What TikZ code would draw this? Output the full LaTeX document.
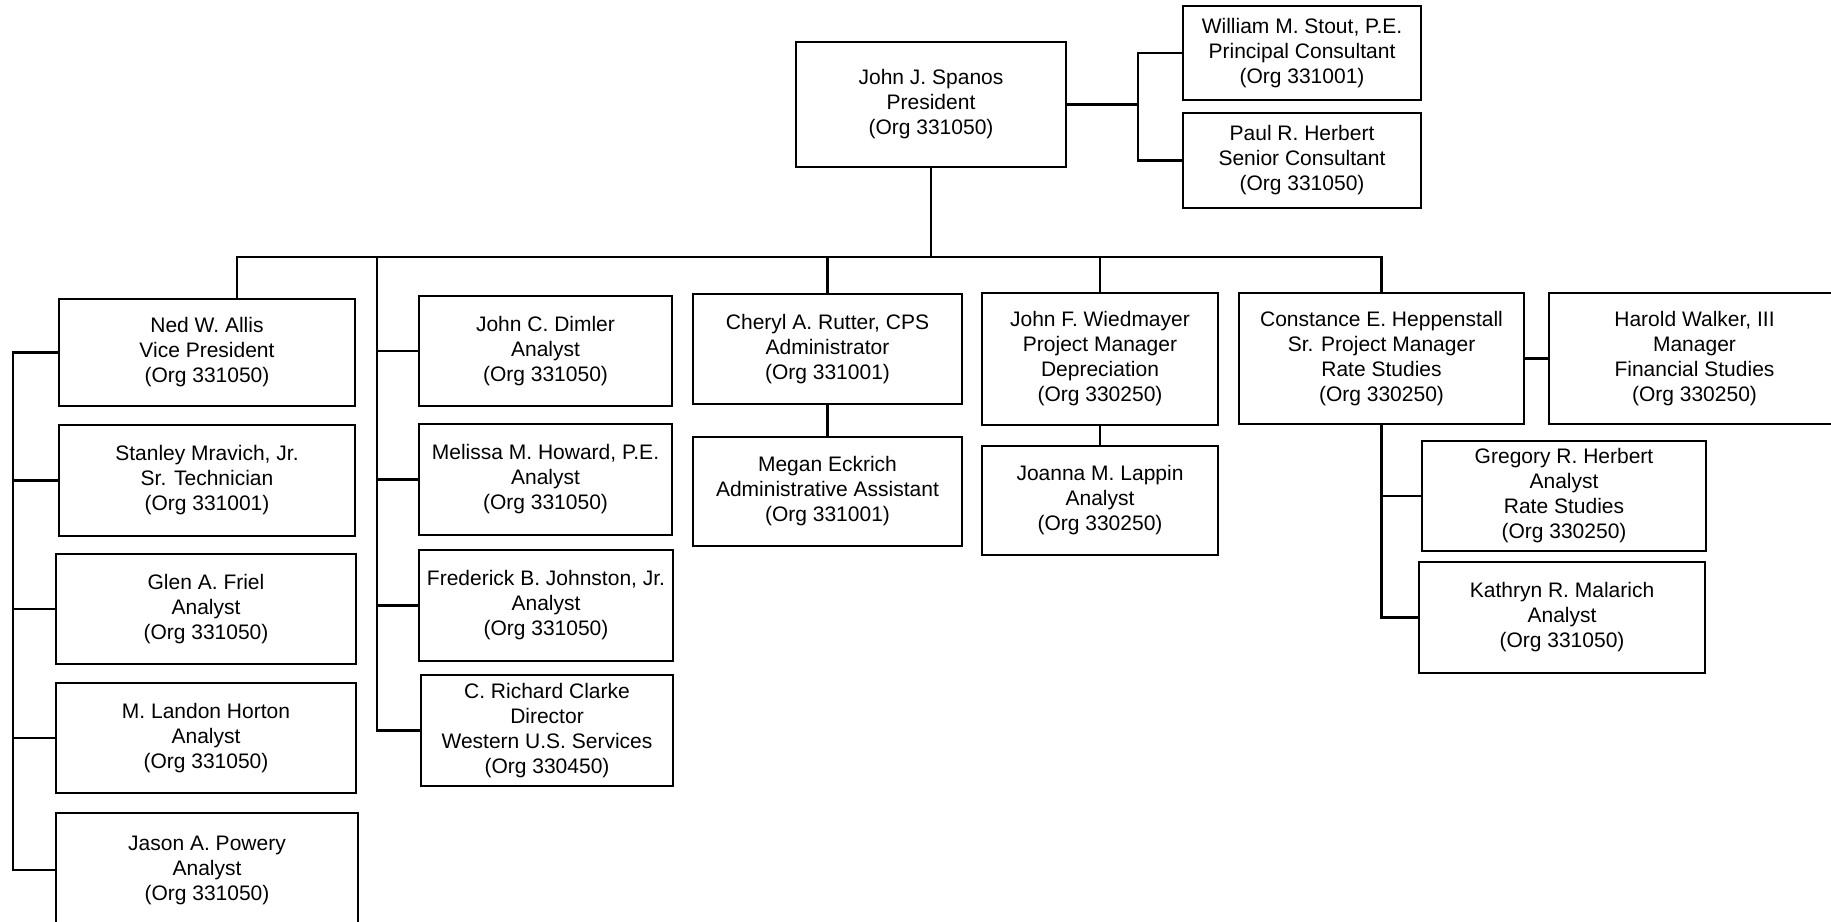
\documentclass[tikz,border=0pt]{standalone}
\usepackage{fontspec}
\setmainfont{Liberation Sans}
\begin{document}
\begin{tikzpicture}[x=0.5pt,y=-0.5pt,
  box/.style={draw=black, line width=1.25pt, fill=white, inner sep=0pt, align=center,
    font=\fontsize{10.5}{12.5}\selectfont},
  link/.style={draw=black, line width=1.1pt}]
\useasboundingbox[fill=white] (0,0) rectangle (1831,921);
% top
\node[box, minimum width=135pt, minimum height=62.5pt] (pres) at (931,104.5) {John J. Spanos\\President\\(Org 331050)};
\node[box, minimum width=119pt, minimum height=47pt] (stout) at (1302,53) {William M. Stout, P.E.\\Principal Consultant\\(Org 331001)};
\node[box, minimum width=119pt, minimum height=47.5pt] (pherb) at (1302,160.5) {Paul R. Herbert\\Senior Consultant\\(Org 331050)};
% left column
\node[box, minimum width=148pt, minimum height=53.5pt] (ned) at (207,352.5) {Ned W. Allis\\Vice President\\(Org 331050)};
\node[box, minimum width=148pt, minimum height=55.5pt] (stan) at (207,480.5) {Stanley Mravich, Jr.\\Sr. Technician\\(Org 331001)};
\node[box, minimum width=150pt, minimum height=55pt] (glen) at (206,609) {Glen A. Friel\\Analyst\\(Org 331050)};
\node[box, minimum width=150pt, minimum height=55pt] (land) at (206,738) {M. Landon Horton\\Analyst\\(Org 331050)};
\node[box, minimum width=151pt, minimum height=57pt] (jason) at (207,870) {Jason A. Powery\\Analyst\\(Org 331050)};
% second column
\node[box, minimum width=126.5pt, minimum height=55pt] (dim) at (545.5,351) {John C. Dimler\\Analyst\\(Org 331050)};
\node[box, minimum width=126.5pt, minimum height=55.5pt] (mel) at (545.5,479.5) {Melissa M. Howard, P.E.\\Analyst\\(Org 331050)};
\node[box, minimum width=127pt, minimum height=55.5pt] (fred) at (546,605.5) {Frederick B. Johnston, Jr.\\Analyst\\(Org 331050)};
\node[box, minimum width=126pt, minimum height=55.5pt] (clarke) at (547,730.5) {C. Richard Clarke\\Director\\Western U.S. Services\\(Org 330450)};
% middle
\node[box, minimum width=134.5pt, minimum height=55pt] (rutter) at (827.5,349) {Cheryl A. Rutter, CPS\\Administrator\\(Org 331001)};
\node[box, minimum width=134.5pt, minimum height=54.5pt] (megan) at (827.5,491.5) {Megan Eckrich\\Administrative Assistant\\(Org 331001)};
\node[box, minimum width=118pt, minimum height=66pt] (wied) at (1100,359) {John F. Wiedmayer\\Project Manager\\Depreciation\\(Org 330250)};
\node[box, minimum width=118pt, minimum height=54.5pt] (lappin) at (1100,500.5) {Joanna M. Lappin\\Analyst\\(Org 330250)};
% right
\node[box, minimum width=142.5pt, minimum height=65.5pt] (hep) at (1381.5,358.5) {Constance E. Heppenstall\\Sr. Project Manager\\Rate Studies\\(Org 330250)};
\node[box, minimum width=145.5pt, minimum height=65.5pt] (walker) at (1694.5,358.5) {Harold Walker, III\\Manager\\Financial Studies\\(Org 330250)};
\node[box, minimum width=142pt, minimum height=55pt] (greg) at (1564,496) {Gregory R. Herbert\\Analyst\\Rate Studies\\(Org 330250)};
\node[box, minimum width=143pt, minimum height=55.5pt] (kath) at (1562,617.5) {Kathryn R. Malarich\\Analyst\\(Org 331050)};
% connector points
\coordinate (bus) at (931,257);
\coordinate (c2) at (377,257);
\coordinate (lft) at (13,352.5);
\coordinate (rgt) at (1138,104.5);
% connectors
\draw[link] (pres.south) -- (bus);
\draw[link] ([xshift=15pt]ned.north) |- (bus) -| (hep.north);
\draw[link] (rutter.north) -- (rutter.north |- bus);
\draw[link] (wied.north) -- (wied.north |- bus);
\draw[link] (c2) |- (clarke.west);
\draw[link] (dim.west) -- (dim.west -| c2);
\draw[link] (mel.west) -- (mel.west -| c2);
\draw[link] (fred.west) -- (fred.west -| c2);
\draw[link] (ned.west) -- (lft) |- (jason.west);
\draw[link] (stan.west) -- (stan.west -| lft);
\draw[link] (glen.west) -- (glen.west -| lft);
\draw[link] (land.west) -- (land.west -| lft);
\draw[link] (rutter.south) -- (megan.north);
\draw[link] (wied.south) -- (lappin.north);
\draw[link] (hep.east) -- (walker.west);
\draw[link] (hep.south) |- (kath.west);
\draw[link] (greg.west) -- (greg.west -| hep.south);
\draw[link] (pres.east) -- (rgt);
\draw[link] (stout.west) -| (rgt) |- (pherb.west);
\end{tikzpicture}
\end{document}
